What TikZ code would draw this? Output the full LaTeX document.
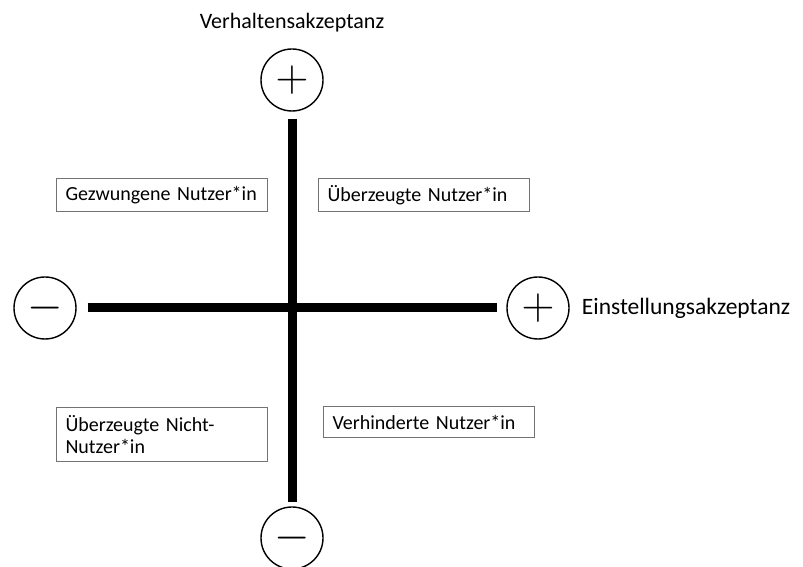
\documentclass[tikz,border=0pt]{standalone}
\usepackage{fontspec}
\setmainfont{Carlito}
\usetikzlibrary{positioning}

\begin{document}
\begin{tikzpicture}[x=1pt, y=1pt,
    signcirc/.style={circle, draw, line width=1.4pt, minimum size=62pt, inner sep=0pt, font=\fontsize{20}{20}\selectfont},
    axisbar/.style={line width=9pt},
    axislabel/.style={inner sep=0pt, font=\fontsize{22}{26}\selectfont},
    quadbox/.style={draw=black!55, line width=1pt, anchor=north west, text width=193pt, align=left, inner xsep=9pt, inner ysep=4pt, minimum height=33pt, font=\fontsize{20}{22}\selectfont}]
      \useasboundingbox (0,0) rectangle (803,567);
      % Kreise an den Achsenenden
      \node[signcirc] (vp) at (292,487) {\scalebox{2.2}{$+$}};
      \node[signcirc] (vm) at (292,29) {\scalebox{2.2}{$-$}};
      \node[signcirc] (em) at (45,259) {\scalebox{2.2}{$-$}};
      \node[signcirc] (ep) at (538,259) {\scalebox{2.2}{$+$}};
      \node[axislabel, above=16pt of vp] (vlab) {Verhaltensakzeptanz};
      \node[axislabel, right=12pt of ep, font=\fontsize{23.5}{27}\selectfont] (elab) {Einstellungsakzeptanz};
      % Achsen
      \draw [axisbar, shorten <=7pt, shorten >=4pt] (vp) -- (vm);
      \draw [axisbar, shorten <=11pt, shorten >=9pt] (em) -- (ep);
      % Quadranten
      \node[quadbox] (gezw) at (56,389) {Gezwungene Nutzer*in};
      \node[quadbox] (ueb) at (318,389) {Überzeugte Nutzer*in};
      \node[quadbox, minimum height=54pt] (nicht) at (56,160) {Überzeugte Nicht-\\Nutzer*in};
      \node[quadbox, minimum height=31pt] (verh) at (323,161) {Verhinderte Nutzer*in};
    \end{tikzpicture}
\end{document}
